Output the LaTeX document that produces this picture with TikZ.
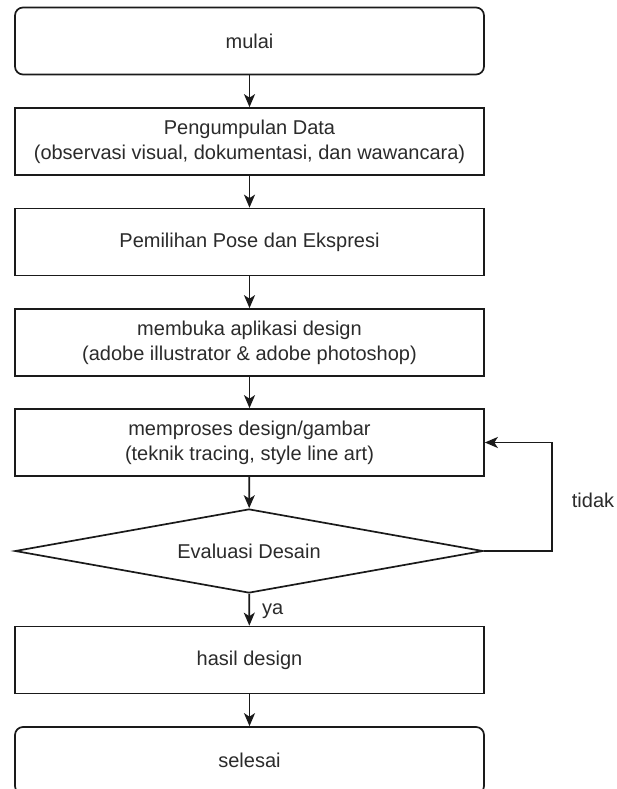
\documentclass[tikz,border=0pt]{standalone}
\usepackage{fontspec}
\setmainfont{Liberation Sans}
\usetikzlibrary{arrows.meta,shapes.geometric}
\definecolor{inkline}{HTML}{1A1A1A}
\definecolor{inktext}{HTML}{2B2B2B}
\tikzset{
  boxstep/.style={draw=inkline, line width=1.7pt, rectangle, minimum width=469pt,
    minimum height=67pt, inner sep=0pt, align=center, text=inktext,
    font=\fontsize{20}{25}\selectfont},
  termstep/.style={boxstep, rounded corners=8pt},
  decstep/.style={draw=inkline, line width=1.7pt, diamond, aspect=5.57,
    minimum width=468pt, minimum height=84pt, inner sep=0pt, text=inktext,
    font=\fontsize{20}{25}\selectfont},
  lbl/.style={text=inktext, inner sep=0pt, font=\fontsize{20}{25}\selectfont},
  arr/.style={draw=inkline, line width=1.7pt,
    -{Stealth[length=13pt,width=11pt,inset=3.5pt]}}
}
\begin{document}
\begin{tikzpicture}[x=1pt,y=-1pt]
  \clip (0,0) rectangle (617,789);
  \fill[white] (0,0) rectangle (617,789);

  \node[termstep] (start) at (249.5,41) {mulai};
  \node[boxstep] (data) at (249.5,141.5)
    {Pengumpulan Data\\(observasi visual, dokumentasi, dan wawancara)};
  \node[boxstep] (pose) at (249.5,242) {Pemilihan Pose dan Ekspresi};
  \node[boxstep] (app) at (249.5,342.5)
    {membuka aplikasi design\\(adobe illustrator \& adobe photoshop)};
  \node[boxstep] (proc) at (249.5,442.5)
    {memproses design/gambar\\(teknik tracing, style line art)};
  \node[decstep] (eval) at (249,551) {Evaluasi Desain};
  \node[boxstep] (res) at (249.5,660) {hasil design};
  \node[termstep] (end) at (249.5,760.5) {selesai};

  \draw[arr] (start) -- (data);
  \draw[arr] (data) -- (pose);
  \draw[arr] (pose) -- (app);
  \draw[arr] (app) -- (proc);
  \draw[arr] (proc) -- (eval);
  \draw[arr] (eval) -- node[lbl, anchor=west, xshift=12pt, yshift=-1pt] (ya) {ya} (res);
  \draw[arr] (res) -- (end);
  \draw[arr] (eval.east) -- ++(68,0) |- (proc.east);

  \node[lbl] (tidak) at (593,500) {tidak};
\end{tikzpicture}
\end{document}
